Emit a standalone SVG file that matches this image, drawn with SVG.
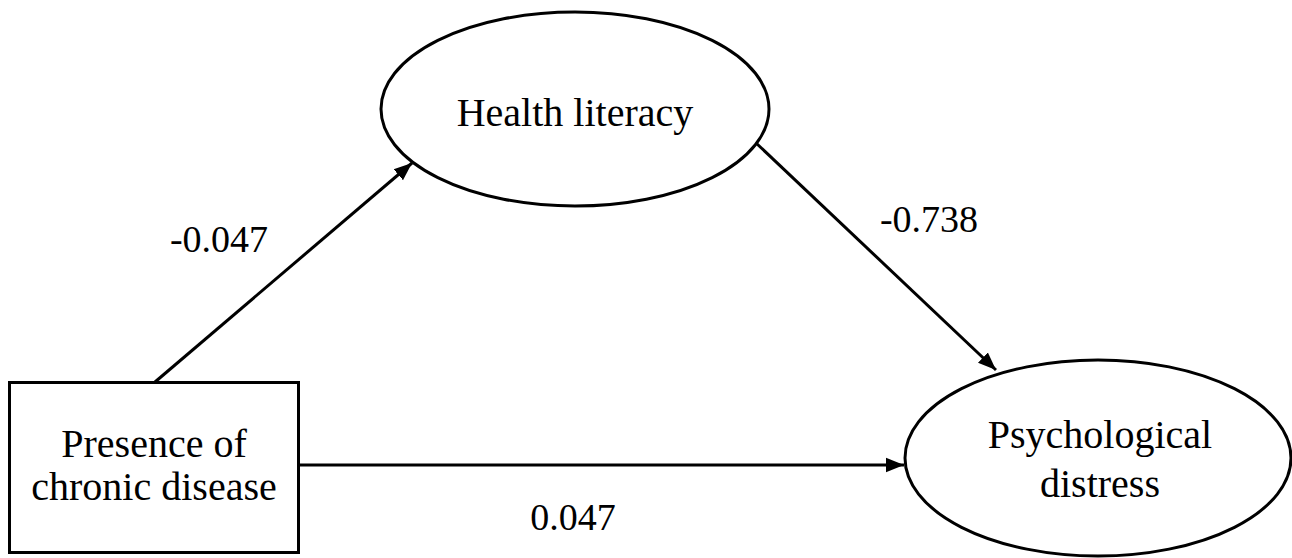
<svg xmlns="http://www.w3.org/2000/svg" width="1292" height="558" viewBox="0 0 1292 558">
<style>
.n{fill:#fff;stroke:#000;stroke-width:3}
.t{font-family:"Liberation Serif","Times New Roman",serif;font-size:40px;fill:#000;text-anchor:middle}
.l{font-family:"Liberation Serif","Times New Roman",serif;font-size:38px;fill:#000;text-anchor:middle}
.c{stroke:#000;stroke-width:3;fill:none;marker-end:url(#ah)}
</style>
<defs>
<marker id="ah" viewBox="0 0 10 10" refX="10" refY="5" markerWidth="6" markerHeight="6" markerUnits="strokeWidth" orient="auto">
<path d="M0,1 L10,5 L0,9 Z" fill="#000"/>
</marker>
</defs>
<rect width="1292" height="558" fill="#fff"/>
<g id="connectors">
<line class="c" x1="155" y1="382" x2="412" y2="163"/>
<line class="c" x1="755" y1="142" x2="996" y2="370"/>
<line class="c" x1="298" y1="465" x2="904" y2="465"/>
</g>
<g id="health-literacy">
<ellipse class="n" cx="575" cy="109" rx="194" ry="97"/>
<text class="t" x="575" y="126">Health literacy</text>
</g>
<g id="chronic-disease">
<rect class="n" x="9.5" y="382.5" width="289" height="170"/>
<text class="t" x="154" y="457">Presence of</text>
<text class="t" x="154" y="500">chronic disease</text>
</g>
<g id="psychological-distress">
<ellipse class="n" cx="1098" cy="458" rx="193" ry="98"/>
<text class="t" x="1100" y="448">Psychological</text>
<text class="t" x="1100" y="497">distress</text>
</g>
<g id="labels">
<text class="l" x="219" y="252">-0.047</text>
<text class="l" x="929" y="232">-0.738</text>
<text class="l" x="573" y="530">0.047</text>
</g>
</svg>
